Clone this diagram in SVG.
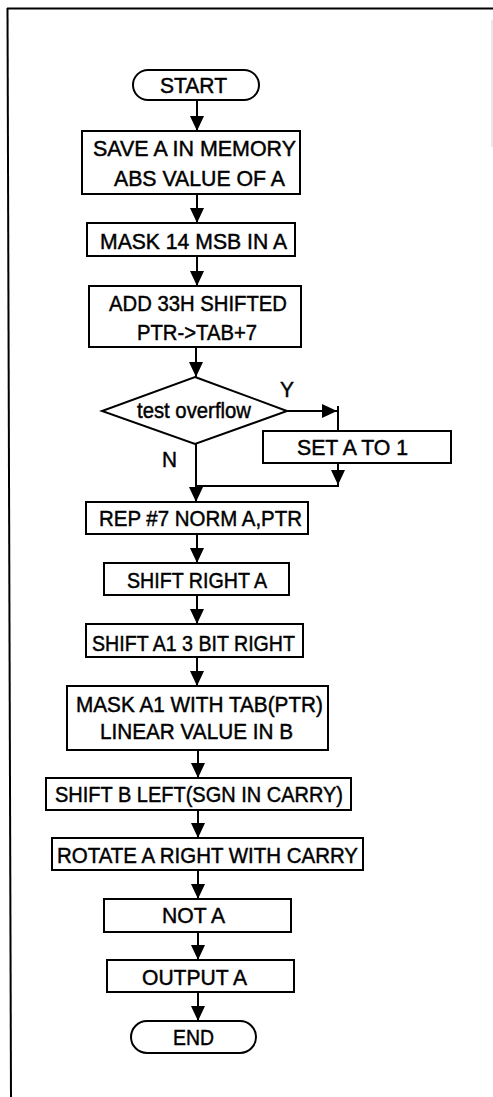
<svg xmlns="http://www.w3.org/2000/svg" width="493" height="1097" viewBox="0 0 493 1097">
<defs>
<marker id="ah" markerUnits="userSpaceOnUse" markerWidth="16" markerHeight="16" refX="15" refY="7" orient="auto">
<path d="M0,0 L15,7 L0,14 Z" fill="#000"/>
</marker>
<style>
.box{fill:#fff;stroke:#000;stroke-width:2}
.t{font-family:"Liberation Sans",Arial,sans-serif;font-size:22px;fill:#000;stroke:#000;stroke-width:0.45}
.c{fill:none;stroke:#000;stroke-width:2}
.ca{fill:none;stroke:#000;stroke-width:2;marker-end:url(#ah)}
</style>
</defs>
<rect width="493" height="1097" fill="#fff"/>
<g id="frame">
<line class="c" x1="7" y1="8.5" x2="493" y2="8.5"/>
<line class="c" x1="7.5" y1="8" x2="11" y2="1097"/>
<line x1="492" y1="20" x2="492" y2="147" stroke="#d0d0d0" stroke-width="1"/>
</g>
<g id="connectors">
<line class="ca" x1="197" y1="100" x2="197" y2="131"/>
<line class="ca" x1="197" y1="194" x2="197" y2="223"/>
<line class="ca" x1="197" y1="256" x2="197" y2="286"/>
<line class="ca" x1="196" y1="347" x2="196" y2="377"/>
<line class="ca" x1="287" y1="411" x2="337" y2="411"/>
<line class="c" x1="338" y1="406" x2="338" y2="431"/>
<line class="ca" x1="338" y1="463" x2="338" y2="485"/>
<line class="c" x1="339" y1="486" x2="196" y2="486"/>
<line class="ca" x1="196" y1="444" x2="196" y2="502"/>
<line class="ca" x1="197" y1="534" x2="197" y2="563"/>
<line class="ca" x1="197" y1="595" x2="197" y2="624"/>
<line class="ca" x1="197" y1="657" x2="197" y2="686"/>
<line class="ca" x1="198" y1="750" x2="198" y2="778"/>
<line class="ca" x1="198" y1="810" x2="198" y2="838"/>
<line class="ca" x1="198" y1="870" x2="198" y2="899"/>
<line class="ca" x1="198" y1="932" x2="198" y2="960"/>
<line class="ca" x1="198" y1="992" x2="198" y2="1021"/>
<text class="t" x="280" y="397" textLength="14" lengthAdjust="spacingAndGlyphs">Y</text>
<text class="t" x="162" y="467" textLength="15" lengthAdjust="spacingAndGlyphs">N</text>
</g>
<g id="start">
<rect class="box" x="133" y="70" width="126" height="30" rx="15"/>
<text class="t" x="160" y="93" textLength="67" lengthAdjust="spacingAndGlyphs">START</text>
</g>
<g id="save">
<rect class="box" x="82" y="131" width="218" height="63"/>
<text class="t" x="93" y="156" textLength="203" lengthAdjust="spacingAndGlyphs">SAVE A IN MEMORY</text>
<text class="t" x="114" y="186" textLength="171" lengthAdjust="spacingAndGlyphs">ABS VALUE OF A</text>
</g>
<g id="mask14">
<rect class="box" x="87" y="223" width="208" height="33"/>
<text class="t" x="100" y="249" textLength="187" lengthAdjust="spacingAndGlyphs">MASK 14 MSB IN A</text>
</g>
<g id="add33">
<rect class="box" x="89" y="286" width="212" height="61"/>
<text class="t" x="109" y="311" textLength="178" lengthAdjust="spacingAndGlyphs">ADD 33H SHIFTED</text>
<text class="t" x="137" y="340" textLength="120" lengthAdjust="spacingAndGlyphs">PTR-&gt;TAB+7</text>
</g>
<g id="test">
<polygon class="box" points="195,377 287,411 195,444 102,411"/>
<text class="t" x="137" y="418" textLength="114" lengthAdjust="spacingAndGlyphs">test overflow</text>
</g>
<g id="seta">
<rect class="box" x="263" y="431" width="188" height="32"/>
<text class="t" x="297" y="455" textLength="111" lengthAdjust="spacingAndGlyphs">SET A  TO 1</text>
</g>
<g id="rep">
<rect class="box" x="86" y="502" width="222" height="32"/>
<text class="t" x="99" y="526" textLength="203" lengthAdjust="spacingAndGlyphs">REP #7 NORM A,PTR</text>
</g>
<g id="shiftr">
<rect class="box" x="104" y="563" width="185" height="32"/>
<text class="t" x="127" y="588" textLength="140" lengthAdjust="spacingAndGlyphs">SHIFT RIGHT A</text>
</g>
<g id="shifta1">
<rect class="box" x="86" y="624" width="217" height="33"/>
<text class="t" x="92" y="651" textLength="203" lengthAdjust="spacingAndGlyphs">SHIFT A1 3 BIT RIGHT</text>
</g>
<g id="maska1">
<rect class="box" x="67" y="686" width="261" height="64"/>
<text class="t" x="76" y="712" textLength="247" lengthAdjust="spacingAndGlyphs">MASK A1 WITH TAB(PTR)</text>
<text class="t" x="100" y="739" textLength="193" lengthAdjust="spacingAndGlyphs">LINEAR VALUE IN B</text>
</g>
<g id="shiftb">
<rect class="box" x="46" y="778" width="305" height="32"/>
<text class="t" x="55" y="802" textLength="288" lengthAdjust="spacingAndGlyphs">SHIFT B LEFT(SGN IN CARRY)</text>
</g>
<g id="rotate">
<rect class="box" x="52" y="838" width="311" height="32"/>
<text class="t" x="57" y="863" textLength="301" lengthAdjust="spacingAndGlyphs">ROTATE A RIGHT WITH CARRY</text>
</g>
<g id="nota">
<rect class="box" x="104" y="899" width="187" height="33"/>
<text class="t" x="162" y="923" textLength="63" lengthAdjust="spacingAndGlyphs">NOT A</text>
</g>
<g id="output">
<rect class="box" x="107" y="960" width="187" height="32"/>
<text class="t" x="142" y="985" textLength="105" lengthAdjust="spacingAndGlyphs">OUTPUT A</text>
</g>
<g id="end">
<rect class="box" x="131" y="1021" width="125" height="32" rx="16"/>
<text class="t" x="173" y="1045" textLength="41" lengthAdjust="spacingAndGlyphs">END</text>
</g>
</svg>
